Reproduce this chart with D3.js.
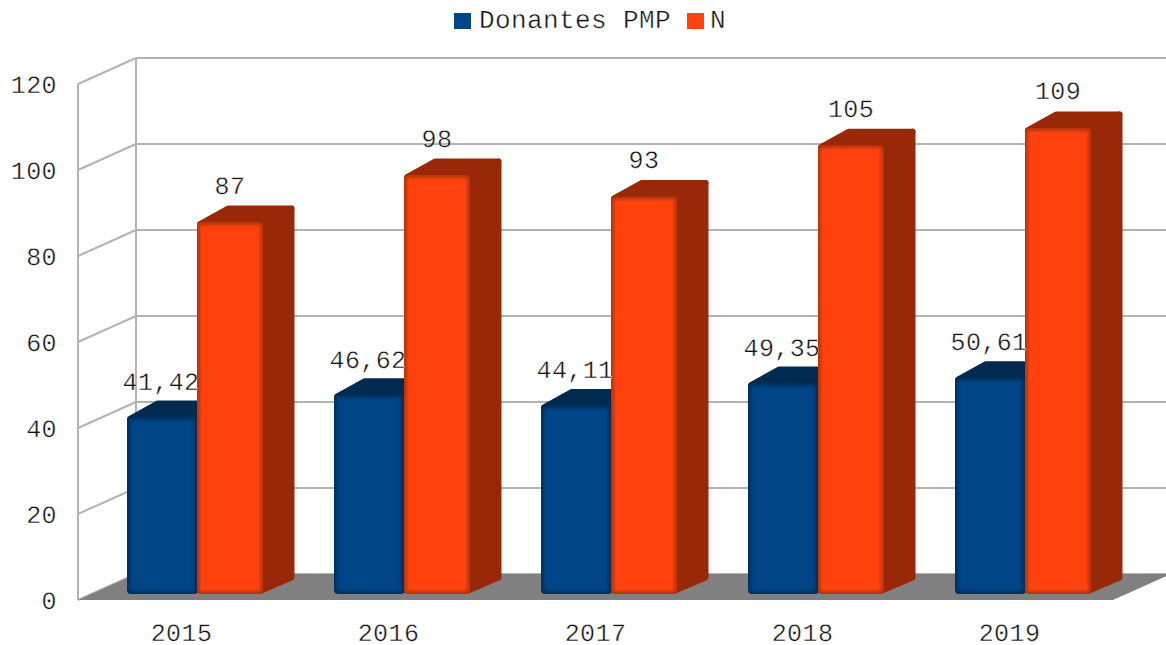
<!DOCTYPE html>
<html>
<head>
<meta charset="utf-8">
<script src="https://cdn.jsdelivr.net/npm/d3@7"></script>
<style>
  html, body { margin: 0; padding: 0; background: #fff; }
  svg { display: block; }
  text {
    font-family: "Liberation Mono", monospace;
    font-size: 25px;
    letter-spacing: 0.4px;
    fill: #111;
    stroke: #fff;
    stroke-width: 0.4px;
    text-rendering: geometricPrecision;
  }
</style>
</head>
<body>
<div id="chart"></div>
<script>
const years = ["2015", "2016", "2017", "2018", "2019"];
const donantes = [41.42, 46.62, 44.11, 49.35, 50.61];
const nValues = [87, 98, 93, 105, 109];
const donantesLabels = ["41,42", "46,62", "44,11", "49,35", "50,61"];
const seriesNames = ["Donantes PMP", "N"];
const yTicks = [0, 20, 40, 60, 80, 100, 120];

const width = 1166, height = 645;
const depthX = 58, depthY = 26;
const barDepthX = 30, barDepthY = 15;

const svg = d3.select("#chart").append("svg")
  .attr("width", width)
  .attr("height", height);

const defs = svg.append("defs");
defs.append("filter").attr("id", "soft")
  .attr("x", "-10%").attr("y", "-10%").attr("width", "120%").attr("height", "120%")
  .append("feGaussianBlur").attr("stdDeviation", 1.6);

const x = d3.scaleBand().domain(years).range([78, 1113]);
const y = d3.scaleLinear().domain([0, 120]).range([600, 84]);
// bars stand a little inside the floor, so they get their own baseline
const yBar = d3.scaleLinear().domain([0, 120]).range([594, 81]);

const gridColor = "#b3b3b3";

// walls
const grid = svg.append("g").attr("stroke", gridColor).attr("stroke-width", 2).attr("fill", "none");
grid.selectAll(".back").data(yTicks).enter().append("line")
  .attr("class", "back")
  .attr("x1", 78 + depthX).attr("x2", width)
  .attr("y1", d => y(d) - depthY).attr("y2", d => y(d) - depthY);
grid.selectAll(".side").data(yTicks).enter().append("line")
  .attr("class", "side")
  .attr("x1", 78).attr("x2", 78 + depthX)
  .attr("y1", d => y(d)).attr("y2", d => y(d) - depthY);
grid.append("line").attr("x1", 78).attr("x2", 78).attr("y1", y(120)).attr("y2", y(0));
grid.append("line").attr("x1", 78 + depthX).attr("x2", 78 + depthX).attr("y1", y(120) - depthY).attr("y2", y(0) - depthY);

// floor
svg.append("polygon")
  .attr("fill", "#808080")
  .attr("points", [[78, y(0)], [78 + depthX, y(0) - depthY], [1113 + depthX, y(0) - depthY], [1113, y(0)]].join(" "));

// axes
const yAxis = svg.append("g")
  .attr("transform", "translate(57,0)")
  .call(d3.axisLeft(y).tickValues(yTicks).tickSize(0).tickPadding(0));
yAxis.attr("font-size", null).attr("font-family", null);
yAxis.select(".domain").remove();

const xAxis = svg.append("g")
  .attr("transform", "translate(0,641)")
  .call(d3.axisBottom(x).tickSize(0).tickPadding(0));
xAxis.attr("font-size", null).attr("font-family", null);
xAxis.select(".domain").remove();
xAxis.selectAll("text").attr("dy", 0).attr("y", 0);

// one 3d bar, the thick round stroke makes the soft corners
function drawBar(g, left, right, value, c) {
  const top = yBar(value), base = yBar(0);
  const dx = barDepthX, dy = barDepthY;
  g.append("polygon")
    .attr("fill", c.side).attr("stroke", c.side).attr("stroke-width", 6).attr("stroke-linejoin", "round")
    .attr("points", [[right - 3, top + 3], [right + dx - 1.5, top - dy + 1.5], [right + dx - 1.5, base - dy - 1.5], [right - 3, base - 3]].join(" "));
  g.append("polygon")
    .attr("fill", c.top).attr("stroke", c.top).attr("stroke-width", 6).attr("stroke-linejoin", "round")
    .attr("points", [[left + 3, top + 2], [left + dx + 1, top - dy + 1.5], [right + dx - 1.5, top - dy + 1.5], [right, top + 3]].join(" "));
  g.append("rect")
    .attr("x", left).attr("y", top).attr("width", right - left).attr("height", base - top)
    .attr("rx", 4).attr("fill", c.edge);
  g.append("rect")
    .attr("x", left + 3).attr("y", top + 3).attr("width", right - left - 6).attr("height", base - top - 6)
    .attr("fill", c.main).attr("filter", "url(#soft)");
}

const blue = { main: "#004586", edge: "#00305c", side: "#002a50", top: "#002a50" };
const orange = { main: "#ff420e", edge: "#b8350c", side: "#992808", top: "#992808" };

const bars = svg.append("g");
years.forEach((yr, i) => {
  const x0 = x(yr) + 49;
  drawBar(bars, x0, x0 + 70, donantes[i], blue);
  drawBar(bars, x0 + 70, x0 + 136, nValues[i], orange);
});

// value labels
years.forEach((yr, i) => {
  const x0 = x(yr) + 49;
  svg.append("text").attr("x", x0 + 34).attr("y", y(donantes[i]) - 32)
    .attr("text-anchor", "middle").text(donantesLabels[i]);
  svg.append("text").attr("x", x0 + 103).attr("y", y(nValues[i]) - 32)
    .attr("text-anchor", "middle").text(nValues[i]);
});

// legend
const legendX = d3.scaleOrdinal().domain(seriesNames).range([454, 687]);
const legendTextX = d3.scaleOrdinal().domain(seriesNames).range([479, 710]);
const legendColor = d3.scaleOrdinal().domain(seriesNames).range(["#004586", "#ff420e"]);
svg.selectAll(".legend-box").data(seriesNames).enter().append("rect")
  .attr("class", "legend-box")
  .attr("x", d => legendX(d)).attr("y", 13)
  .attr("width", 17).attr("height", 16)
  .attr("fill", d => legendColor(d));
svg.selectAll(".legend-text").data(seriesNames).enter().append("text")
  .attr("class", "legend-text")
  .attr("x", d => legendTextX(d)).attr("y", 28)
  .style("font-size", "26px")
  .text(d => d);
</script>
</body>
</html>
